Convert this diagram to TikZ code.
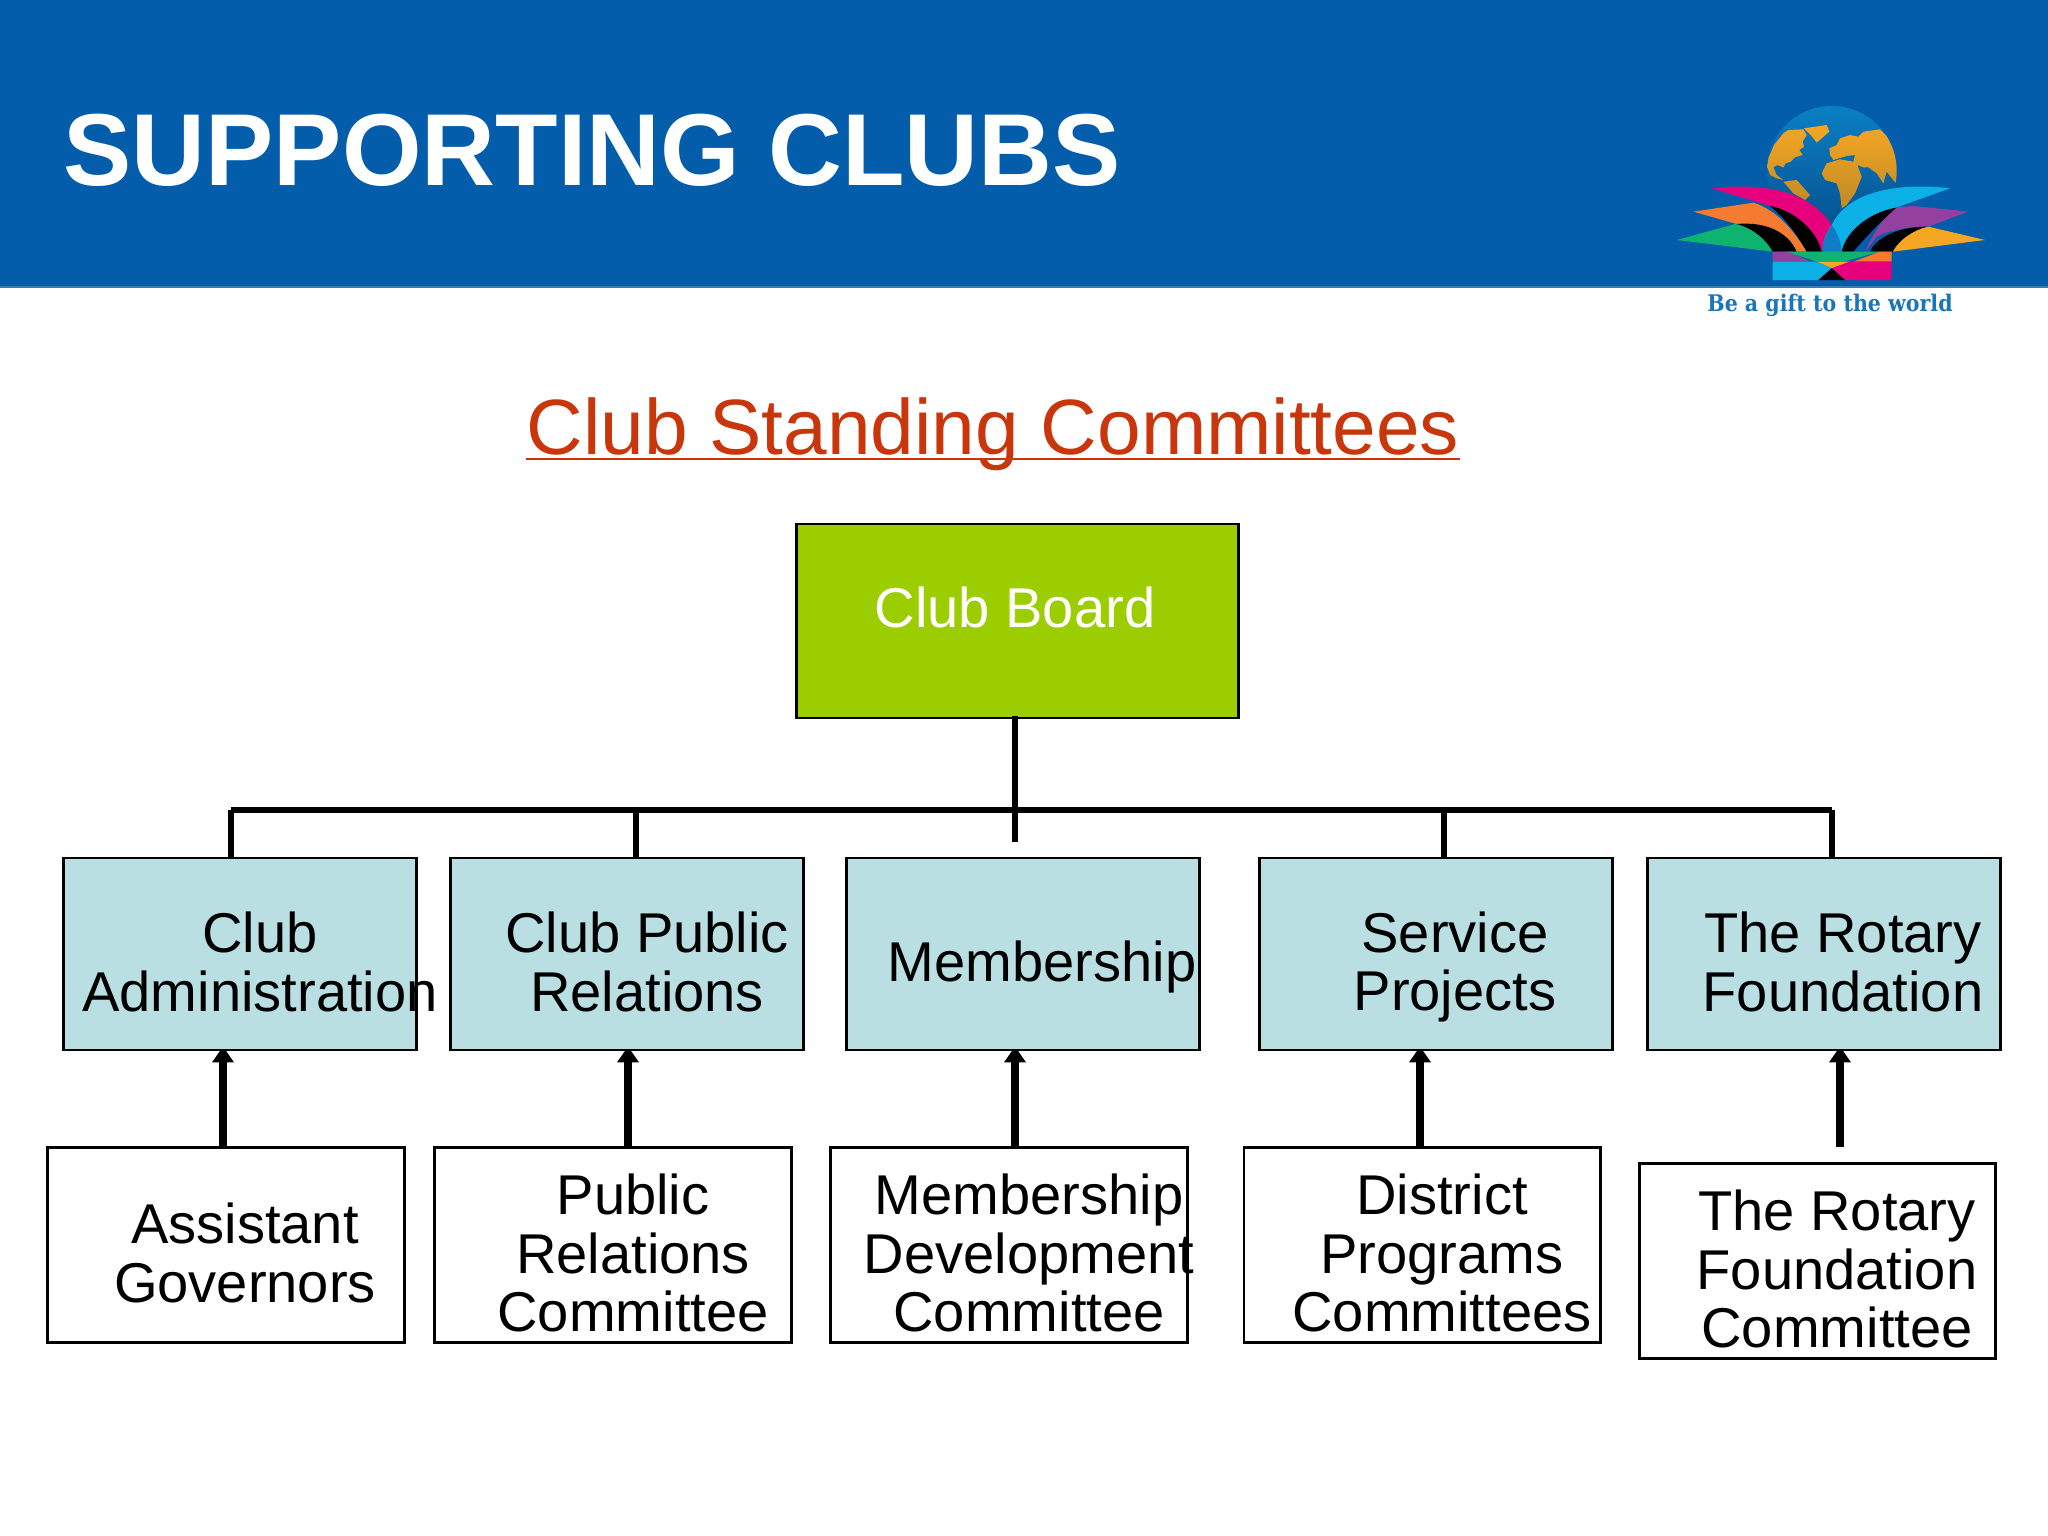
\documentclass[tikz,border=0pt]{standalone}
\usepackage{fontspec}
\setmainfont{Liberation Sans}
\newfontfamily\slabfont{DejaVu Serif Condensed}
\usetikzlibrary{arrows.meta,backgrounds}
\definecolor{headblue}{HTML}{035DAB}
\definecolor{headedge}{HTML}{3E7CA6}
\definecolor{boardgreen}{HTML}{9BCD00}
\definecolor{paleteal}{HTML}{B9DFE3}
\definecolor{headred}{HTML}{C9360C}
\definecolor{tagblue}{HTML}{1B75B9}
\definecolor{landorange}{HTML}{F5A623}
\definecolor{landdark}{HTML}{C08A25}
\definecolor{wingpink}{HTML}{E6007E}
\definecolor{wingcyan}{HTML}{0BB0E6}
\definecolor{wingorange}{HTML}{F47B30}
\definecolor{winggreen}{HTML}{0DB36E}
\definecolor{wingpurple}{HTML}{94409E}
\definecolor{wingoverlap}{HTML}{0F7CC4}
\definecolor{globetop}{HTML}{0A80C4}
\definecolor{globebottom}{HTML}{064E8C}
\tikzset{
  boardbox/.style={draw=black,line width=0.8pt,fill=boardgreen,minimum width=4.41cm,minimum height=1.94cm,inner sep=0pt},
  tealbox/.style={draw=black,line width=0.8pt,fill=paleteal,minimum width=3.53cm,minimum height=1.92cm,inner sep=0pt},
  whitebox/.style={draw=black,line width=0.8pt,fill=white,minimum width=3.56cm,minimum height=1.95cm,inner sep=0pt},
  boxtext/.style={align=center,inner sep=0pt,font=\fontsize{15.95}{16.7}\selectfont},
  busline/.style={line width=1.5pt},
  uparrow/.style={line width=2.3pt,shorten >=-0.05cm,-{Triangle[width=0.21cm,length=0.16cm]}},
}
\begin{document}
\begin{tikzpicture}[x=0.01cm,y=-0.01cm]
  \useasboundingbox (0,0) rectangle (2048,1536);
  \fill[headblue] (0,0) rectangle (2048,286);
  \fill[headedge] (0,286) rectangle (2048,288);
  \node[anchor=west,inner sep=0pt,text=white,font=\fontsize{29.08}{32}\selectfont\bfseries] (title) at (63,150) {SUPPORTING CLUBS};

  \begin{scope}[shift={(1620,80)},scale=1/3]
    \shade[top color=globetop,bottom color=globebottom] (635,273) circle (195);
    \begin{scope}
      \clip (635,273) circle (195);
      \shade[top color=landorange,middle color=landorange,bottom color=landdark]
        (442,262) -- (445,235) -- (462,195) -- (490,160) -- (505,150) -- (550,148) -- (560,165) -- (548,185) -- (552,200) -- (538,210) -- (548,225) -- (525,232) -- (512,245) -- (497,250) -- (490,262) -- (472,255) -- (460,262) -- (470,285) -- (490,300) -- (470,295) -- (450,285) -- cycle
        (552,145) -- (620,135) -- (628,155) -- (590,188) -- (572,165) -- cycle
        (490,305) -- (530,300) -- (570,345) -- (555,360) -- (520,340) -- cycle
        (628,205) -- (650,195) -- (660,175) -- (690,165) -- (715,170) -- (730,155) -- (780,148) -- (812,180) -- (828,230) -- (832,265) -- (828,310) -- (800,275) -- (790,310) -- (770,280) -- (745,262) -- (730,262) -- (712,255) -- (725,290) -- (705,340) -- (680,375) -- (665,385) -- (660,340) -- (650,310) -- (615,300) -- (605,280) -- (620,250) -- (660,238) -- (700,245) -- (705,225) -- (680,228) -- (640,240) -- (630,225) -- cycle;
    \end{scope}
    \fill[winggreen] (170,480) -- (345,432) .. controls (400,440) and (440,480) .. (458,515) -- cycle;
    \fill[wingorange] (220,395) -- (400,368) .. controls (470,390) and (520,450) .. (560,515) -- (530,515) .. controls (510,470) and (480,440) .. (350,432) -- cycle;
    \fill[black] (350,432) .. controls (430,425) and (500,450) .. (530,515) -- (458,515) .. controls (440,480) and (400,445) .. (350,432) -- cycle;
    \fill[wingpink] (275,325) .. controls (400,310) and (560,320) .. (635,435) -- (605,515) .. controls (570,440) and (510,395) .. (450,378) -- cycle;
    \fill[black] (450,378) .. controls (520,390) and (590,450) .. (605,515) -- (560,515) .. controls (530,460) and (490,410) .. (450,378) -- cycle;
    \fill[landorange] (1095,480) -- (925,440) .. controls (880,450) and (835,480) .. (818,515) -- cycle;
    \fill[wingpurple] (1045,395) -- (880,378) -- (830,382) .. controls (790,410) and (760,460) .. (735,515) -- (770,470) .. controls (820,445) and (880,440) .. (925,440) -- cycle;
    \fill[black] (830,382) .. controls (750,395) and (680,450) .. (665,515) -- (700,515) .. controls (730,480) and (760,445) .. (830,382) -- cycle;
    \fill[black] (920,440) .. controls (840,440) and (770,470) .. (750,515) -- (818,515) .. controls (835,480) and (880,450) .. (920,440) -- cycle;
    \fill[wingcyan] (990,325) .. controls (870,310) and (690,320) .. (635,435) .. controls (610,470) and (605,500) .. (610,515) -- (665,515) .. controls (670,470) and (730,400) .. (830,382) -- cycle;
    \fill[wingoverlap] (635,435) .. controls (612,470) and (605,500) .. (608,515) -- (665,515) .. controls (662,480) and (650,455) .. (635,435) -- cycle;
    \fill[wingpurple] (458,515) -- (510,515) -- (570,545) -- (458,545) -- cycle;
    \fill[winggreen] (500,515) -- (780,515) -- (670,545) -- (590,545) -- cycle;
    \fill[wingorange] (780,515) -- (815,515) -- (815,545) -- (700,545) -- cycle;
    \fill[landorange] (590,545) -- (690,545) -- (635,565) -- cycle;
    \fill[wingcyan] (458,545) -- (590,545) -- (635,565) -- (595,600) -- (458,600) -- cycle;
    \fill[wingpink] (635,565) -- (690,545) -- (815,545) -- (815,600) -- (675,600) -- cycle;
    \fill[black] (595,600) -- (635,565) -- (675,600) -- cycle;
  \end{scope}
  \node[inner sep=0pt,text=tagblue,font=\fontsize{6.5}{8}\selectfont\slabfont\bfseries] (tagline) at (1830,305) {Be a gift to the world};

  \node[inner sep=0pt,text=headred,font=\fontsize{22.3}{24}\selectfont] (heading) at (993,434) {Club Standing Committees};
  \draw[headred,line width=0.6pt] ([yshift=-0.05cm]heading.base west) -- ([yshift=-0.05cm]heading.base east);

  \node[boardbox] (board) at (1017.5,621) {};
  \node[boxtext,text=white] (boardtext) at (1015,607) {Club Board};

  \node[tealbox] (admin) at (240,954) {};
  \node[tealbox] (publicrel) at (627,954) {};
  \node[tealbox] (member) at (1023,954) {};
  \node[tealbox] (service) at (1436,954) {};
  \node[tealbox] (rotary) at (1824,954) {};
  \node[boxtext] (admintext) at (260,962) {Club\\Administration};
  \node[boxtext] (publicreltext) at (647,962) {Club Public\\Relations};
  \node[boxtext] (membertext) at (1042,967) {Membership};
  \node[boxtext] (servicetext) at (1455,967) {Service\\Projects};
  \node[boxtext] (rotarytext) at (1843,962) {The Rotary\\Foundation};

  \node[whitebox] (governors) at (226,1245) {};
  \node[whitebox] (prcomm) at (613,1245) {};
  \node[whitebox] (memberdev) at (1009,1245) {};
  \node[whitebox] (district) at (1422,1245) {};
  \node[whitebox] (rotarycomm) at (1817.5,1261) {};
  \node[boxtext] (governorstext) at (245,1253) {Assistant\\Governors};
  \node[boxtext] (prcommtext) at (633,1253) {Public\\Relations\\Committee};
  \node[boxtext] (memberdevtext) at (1029,1253) {Membership\\Development\\Committee};
  \node[boxtext] (districttext) at (1442,1253) {District\\Programs\\Committees};
  \node[boxtext] (rotarycommtext) at (1837,1269) {The Rotary\\Foundation\\Committee};

  \coordinate (busleft) at (231,810);
  \coordinate (busright) at (1832,810);
  \coordinate (bustwo) at (636,810);
  \coordinate (busfour) at (1444,810);
  \coordinate (trunkend) at (1015,842);
  \coordinate (trunktop) at (1015,716);
  \draw[busline] (busleft) -- (busright);
  \draw[busline] (trunktop) -- (trunkend);
  \draw[busline] (busleft) -- (busleft |- admin.north);
  \draw[busline] (bustwo) -- (bustwo |- publicrel.north);
  \draw[busline] (busfour) -- (busfour |- service.north);
  \draw[busline] (busright) -- (busright |- rotary.north);

  \coordinate (upone) at (223,1147);
  \coordinate (uptwo) at (628,1147);
  \coordinate (upthree) at (1015,1147);
  \coordinate (upfour) at (1420,1147);
  \coordinate (upfive) at (1840,1147);
  \begin{scope}[on background layer]
    \draw[uparrow] (upone) -- (upone |- admin.south);
    \draw[uparrow] (uptwo) -- (uptwo |- publicrel.south);
    \draw[uparrow] (upthree) -- (upthree |- member.south);
    \draw[uparrow] (upfour) -- (upfour |- service.south);
    \draw[uparrow] (upfive) -- (upfive |- rotary.south);
  \end{scope}
\end{tikzpicture}
\end{document}
